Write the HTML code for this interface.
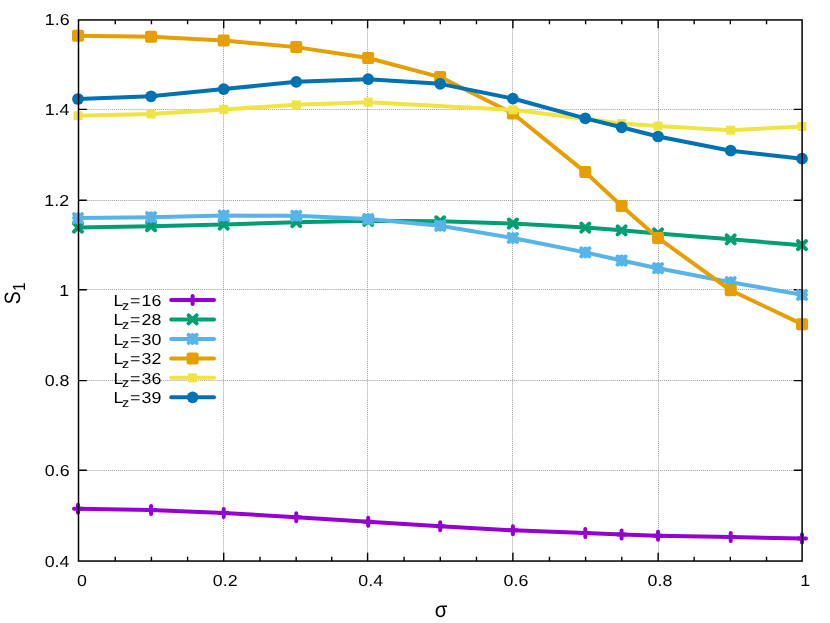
<!DOCTYPE html><html><head><meta charset="utf-8"><title>S1 vs sigma</title>
<style>html,body{margin:0;padding:0;background:#fff}body{width:830px;height:623px;overflow:hidden}svg{display:block;will-change:transform}text{font-family:"Liberation Sans",sans-serif;fill:#000;font-kerning:none;text-rendering:geometricPrecision}</style></head><body>
<svg width="830" height="623" viewBox="0 0 830 623">
<rect width="830" height="623" fill="#fff"/>
<path d="M223.5 20V561M367.5 20V561M512.5 20V561M658.5 20V561M79 470.5H802M79 380.5H802M79 289.5H802M79 200.5H802M79 109.5H802" stroke="#9c9c9e" stroke-width="1" stroke-dasharray="0.95 1" fill="none"/>
<path d="M115.24 561.05v-4.3M115.24 19.95v4.3M151.43 561.05v-4.3M151.43 19.95v4.3M187.61 561.05v-4.3M187.61 19.95v4.3M223.70 561.05v-8.3M223.70 19.95v8.3M259.98 561.05v-4.3M259.98 19.95v4.3M296.16 561.05v-4.3M296.16 19.95v4.3M331.74 561.05v-4.3M331.74 19.95v4.3M367.60 561.05v-8.3M367.60 19.95v8.3M404.11 561.05v-4.3M404.11 19.95v4.3M440.29 561.05v-4.3M440.29 19.95v4.3M476.47 561.05v-4.3M476.47 19.95v4.3M512.90 561.05v-8.3M512.90 19.95v8.3M549.44 561.05v-4.3M549.44 19.95v4.3M585.62 561.05v-4.3M585.62 19.95v4.3M621.81 561.05v-4.3M621.81 19.95v4.3M658.15 561.05v-8.3M658.15 19.95v8.3M694.17 561.05v-4.3M694.17 19.95v4.3M730.35 561.05v-4.3M730.35 19.95v4.3M766.54 561.05v-4.3M766.54 19.95v4.3M78.5 470.20h8.3M802.1 470.20h-8.3M78.5 380.64h8.3M802.1 380.64h-8.3M78.5 289.78h8.3M802.1 289.78h-8.3M78.5 200.20h8.3M802.1 200.20h-8.3M78.5 109.37h8.3M802.1 109.37h-8.3" stroke="#000" stroke-width="1.4" fill="none"/>
<polyline points="78.00,508.66 151.05,510.02 223.70,512.91 296.25,517.24 368.20,521.75 440.20,526.26 512.90,530.32 585.30,533.03 621.60,534.38 658.05,535.73 730.70,537.09 802.00,538.44" fill="none" stroke="#9400D3" stroke-width="4" stroke-linejoin="round" stroke-linecap="round"/>
<path d="M74.00 508.66H82.00M78.00 504.66V512.66" stroke="#9400D3" stroke-width="4" stroke-linecap="round" fill="none"/>
<path d="M147.05 510.02H155.05M151.05 506.02V514.02" stroke="#9400D3" stroke-width="4" stroke-linecap="round" fill="none"/>
<path d="M219.70 512.91H227.70M223.70 508.91V516.91" stroke="#9400D3" stroke-width="4" stroke-linecap="round" fill="none"/>
<path d="M292.25 517.24H300.25M296.25 513.24V521.24" stroke="#9400D3" stroke-width="4" stroke-linecap="round" fill="none"/>
<path d="M364.20 521.75H372.20M368.20 517.75V525.75" stroke="#9400D3" stroke-width="4" stroke-linecap="round" fill="none"/>
<path d="M436.20 526.26H444.20M440.20 522.26V530.26" stroke="#9400D3" stroke-width="4" stroke-linecap="round" fill="none"/>
<path d="M508.90 530.32H516.90M512.90 526.32V534.32" stroke="#9400D3" stroke-width="4" stroke-linecap="round" fill="none"/>
<path d="M581.30 533.03H589.30M585.30 529.03V537.03" stroke="#9400D3" stroke-width="4" stroke-linecap="round" fill="none"/>
<path d="M617.60 534.38H625.60M621.60 530.38V538.38" stroke="#9400D3" stroke-width="4" stroke-linecap="round" fill="none"/>
<path d="M654.05 535.73H662.05M658.05 531.73V539.73" stroke="#9400D3" stroke-width="4" stroke-linecap="round" fill="none"/>
<path d="M726.70 537.09H734.70M730.70 533.09V541.09" stroke="#9400D3" stroke-width="4" stroke-linecap="round" fill="none"/>
<path d="M798.00 538.44H806.00M802.00 534.44V542.44" stroke="#9400D3" stroke-width="4" stroke-linecap="round" fill="none"/>
<polyline points="78.00,227.59 151.05,226.23 223.70,224.61 296.25,222.17 368.20,220.82 440.20,221.27 512.90,223.53 585.30,227.59 621.60,230.29 658.05,233.45 730.70,239.32 802.00,245.18" fill="none" stroke="#009E73" stroke-width="4" stroke-linejoin="round" stroke-linecap="round"/>
<path d="M74.00 223.59L82.00 231.59M74.00 231.59L82.00 223.59" stroke="#009E73" stroke-width="4" stroke-linecap="round" fill="none"/>
<path d="M147.05 222.23L155.05 230.23M147.05 230.23L155.05 222.23" stroke="#009E73" stroke-width="4" stroke-linecap="round" fill="none"/>
<path d="M219.70 220.61L227.70 228.61M219.70 228.61L227.70 220.61" stroke="#009E73" stroke-width="4" stroke-linecap="round" fill="none"/>
<path d="M292.25 218.17L300.25 226.17M292.25 226.17L300.25 218.17" stroke="#009E73" stroke-width="4" stroke-linecap="round" fill="none"/>
<path d="M364.20 216.82L372.20 224.82M364.20 224.82L372.20 216.82" stroke="#009E73" stroke-width="4" stroke-linecap="round" fill="none"/>
<path d="M436.20 217.27L444.20 225.27M436.20 225.27L444.20 217.27" stroke="#009E73" stroke-width="4" stroke-linecap="round" fill="none"/>
<path d="M508.90 219.53L516.90 227.53M508.90 227.53L516.90 219.53" stroke="#009E73" stroke-width="4" stroke-linecap="round" fill="none"/>
<path d="M581.30 223.59L589.30 231.59M581.30 231.59L589.30 223.59" stroke="#009E73" stroke-width="4" stroke-linecap="round" fill="none"/>
<path d="M617.60 226.29L625.60 234.29M617.60 234.29L625.60 226.29" stroke="#009E73" stroke-width="4" stroke-linecap="round" fill="none"/>
<path d="M654.05 229.45L662.05 237.45M654.05 237.45L662.05 229.45" stroke="#009E73" stroke-width="4" stroke-linecap="round" fill="none"/>
<path d="M726.70 235.32L734.70 243.32M726.70 243.32L734.70 235.32" stroke="#009E73" stroke-width="4" stroke-linecap="round" fill="none"/>
<path d="M798.00 241.18L806.00 249.18M798.00 249.18L806.00 241.18" stroke="#009E73" stroke-width="4" stroke-linecap="round" fill="none"/>
<polyline points="78.00,218.11 151.05,217.21 223.70,215.59 296.25,215.86 368.20,219.02 440.20,225.78 512.90,237.96 585.30,252.40 621.60,260.52 658.05,268.19 730.70,282.18 802.00,294.81" fill="none" stroke="#56B4E9" stroke-width="4" stroke-linejoin="round" stroke-linecap="round"/>
<path d="M74.00 218.11H82.00M78.00 214.11V222.11M74.00 214.11L82.00 222.11M74.00 222.11L82.00 214.11" stroke="#56B4E9" stroke-width="4" stroke-linecap="round" fill="none"/>
<path d="M147.05 217.21H155.05M151.05 213.21V221.21M147.05 213.21L155.05 221.21M147.05 221.21L155.05 213.21" stroke="#56B4E9" stroke-width="4" stroke-linecap="round" fill="none"/>
<path d="M219.70 215.59H227.70M223.70 211.59V219.59M219.70 211.59L227.70 219.59M219.70 219.59L227.70 211.59" stroke="#56B4E9" stroke-width="4" stroke-linecap="round" fill="none"/>
<path d="M292.25 215.86H300.25M296.25 211.86V219.86M292.25 211.86L300.25 219.86M292.25 219.86L300.25 211.86" stroke="#56B4E9" stroke-width="4" stroke-linecap="round" fill="none"/>
<path d="M364.20 219.02H372.20M368.20 215.02V223.02M364.20 215.02L372.20 223.02M364.20 223.02L372.20 215.02" stroke="#56B4E9" stroke-width="4" stroke-linecap="round" fill="none"/>
<path d="M436.20 225.78H444.20M440.20 221.78V229.78M436.20 221.78L444.20 229.78M436.20 229.78L444.20 221.78" stroke="#56B4E9" stroke-width="4" stroke-linecap="round" fill="none"/>
<path d="M508.90 237.96H516.90M512.90 233.96V241.96M508.90 233.96L516.90 241.96M508.90 241.96L516.90 233.96" stroke="#56B4E9" stroke-width="4" stroke-linecap="round" fill="none"/>
<path d="M581.30 252.40H589.30M585.30 248.40V256.40M581.30 248.40L589.30 256.40M581.30 256.40L589.30 248.40" stroke="#56B4E9" stroke-width="4" stroke-linecap="round" fill="none"/>
<path d="M617.60 260.52H625.60M621.60 256.52V264.52M617.60 256.52L625.60 264.52M617.60 264.52L625.60 256.52" stroke="#56B4E9" stroke-width="4" stroke-linecap="round" fill="none"/>
<path d="M654.05 268.19H662.05M658.05 264.19V272.19M654.05 264.19L662.05 272.19M654.05 272.19L662.05 264.19" stroke="#56B4E9" stroke-width="4" stroke-linecap="round" fill="none"/>
<path d="M726.70 282.18H734.70M730.70 278.18V286.18M726.70 278.18L734.70 286.18M726.70 286.18L734.70 278.18" stroke="#56B4E9" stroke-width="4" stroke-linecap="round" fill="none"/>
<path d="M798.00 294.81H806.00M802.00 290.81V298.81M798.00 290.81L806.00 298.81M798.00 298.81L806.00 290.81" stroke="#56B4E9" stroke-width="4" stroke-linecap="round" fill="none"/>
<polyline points="78.00,35.71 151.05,36.74 223.70,40.58 296.25,47.12 368.20,57.95 440.20,77.08 512.90,113.44 585.30,172.09 621.60,205.93 658.05,237.96 730.70,290.30 802.00,324.14" fill="none" stroke="#E69F00" stroke-width="4" stroke-linejoin="round" stroke-linecap="round"/>
<rect x="74.00" y="31.71" width="8" height="8" fill="#E69F00" stroke="#E69F00" stroke-width="4" stroke-linejoin="round"/>
<rect x="147.05" y="32.74" width="8" height="8" fill="#E69F00" stroke="#E69F00" stroke-width="4" stroke-linejoin="round"/>
<rect x="219.70" y="36.58" width="8" height="8" fill="#E69F00" stroke="#E69F00" stroke-width="4" stroke-linejoin="round"/>
<rect x="292.25" y="43.12" width="8" height="8" fill="#E69F00" stroke="#E69F00" stroke-width="4" stroke-linejoin="round"/>
<rect x="364.20" y="53.95" width="8" height="8" fill="#E69F00" stroke="#E69F00" stroke-width="4" stroke-linejoin="round"/>
<rect x="436.20" y="73.08" width="8" height="8" fill="#E69F00" stroke="#E69F00" stroke-width="4" stroke-linejoin="round"/>
<rect x="508.90" y="109.44" width="8" height="8" fill="#E69F00" stroke="#E69F00" stroke-width="4" stroke-linejoin="round"/>
<rect x="581.30" y="168.09" width="8" height="8" fill="#E69F00" stroke="#E69F00" stroke-width="4" stroke-linejoin="round"/>
<rect x="617.60" y="201.93" width="8" height="8" fill="#E69F00" stroke="#E69F00" stroke-width="4" stroke-linejoin="round"/>
<rect x="654.05" y="233.96" width="8" height="8" fill="#E69F00" stroke="#E69F00" stroke-width="4" stroke-linejoin="round"/>
<rect x="726.70" y="286.30" width="8" height="8" fill="#E69F00" stroke="#E69F00" stroke-width="4" stroke-linejoin="round"/>
<rect x="798.00" y="320.14" width="8" height="8" fill="#E69F00" stroke="#E69F00" stroke-width="4" stroke-linejoin="round"/>
<polyline points="78.00,115.70 151.05,113.89 223.70,109.38 296.25,104.87 368.20,102.16 512.90,109.83 621.60,123.59 658.05,126.12 730.70,130.14 802.00,126.53" fill="none" stroke="#F0E442" stroke-width="4" stroke-linejoin="round" stroke-linecap="round"/>
<rect x="73.50" y="111.20" width="9" height="9" fill="#F0E442"/>
<rect x="146.55" y="109.39" width="9" height="9" fill="#F0E442"/>
<rect x="219.20" y="104.88" width="9" height="9" fill="#F0E442"/>
<rect x="291.75" y="100.37" width="9" height="9" fill="#F0E442"/>
<rect x="363.70" y="97.66" width="9" height="9" fill="#F0E442"/>
<rect x="508.40" y="105.33" width="9" height="9" fill="#F0E442"/>
<rect x="617.10" y="119.09" width="9" height="9" fill="#F0E442"/>
<rect x="653.55" y="121.62" width="9" height="9" fill="#F0E442"/>
<rect x="726.20" y="125.64" width="9" height="9" fill="#F0E442"/>
<rect x="797.50" y="122.03" width="9" height="9" fill="#F0E442"/>
<polyline points="78.00,99.01 151.05,96.30 223.70,89.08 296.25,81.86 368.20,79.15 440.20,83.85 512.90,98.55 585.30,118.41 621.60,127.29 658.05,136.50 730.70,150.71 802.00,158.69" fill="none" stroke="#0072B2" stroke-width="4" stroke-linejoin="round" stroke-linecap="round"/>
<circle cx="78.00" cy="99.01" r="5.85" fill="#0072B2"/>
<circle cx="151.05" cy="96.30" r="5.85" fill="#0072B2"/>
<circle cx="223.70" cy="89.08" r="5.85" fill="#0072B2"/>
<circle cx="296.25" cy="81.86" r="5.85" fill="#0072B2"/>
<circle cx="368.20" cy="79.15" r="5.85" fill="#0072B2"/>
<circle cx="440.20" cy="83.85" r="5.85" fill="#0072B2"/>
<circle cx="512.90" cy="98.55" r="5.85" fill="#0072B2"/>
<circle cx="585.30" cy="118.41" r="5.85" fill="#0072B2"/>
<circle cx="621.60" cy="127.29" r="5.85" fill="#0072B2"/>
<circle cx="658.05" cy="136.50" r="5.85" fill="#0072B2"/>
<circle cx="730.70" cy="150.71" r="5.85" fill="#0072B2"/>
<circle cx="802.00" cy="158.69" r="5.85" fill="#0072B2"/>
<path d="M171.2 300.00H214" stroke="#9400D3" stroke-width="4" stroke-linecap="round" fill="none"/>
<path d="M188.60 300.00H196.60M192.60 296.00V304.00" stroke="#9400D3" stroke-width="4" stroke-linecap="round" fill="none"/>
<text transform="translate(113.44,305.75) scale(1.12,1)" font-size="15.9">L<tspan font-size="12.72" dx="-1.24" dy="3.8">z</tspan><tspan dx="0.74" dy="-3.8">=</tspan><tspan dx="1.18">16</tspan></text>
<path d="M171.2 319.46H214" stroke="#009E73" stroke-width="4" stroke-linecap="round" fill="none"/>
<path d="M188.60 315.46L196.60 323.46M188.60 323.46L196.60 315.46" stroke="#009E73" stroke-width="4" stroke-linecap="round" fill="none"/>
<text transform="translate(113.44,325.21) scale(1.12,1)" font-size="15.9">L<tspan font-size="12.72" dx="-1.24" dy="3.8">z</tspan><tspan dx="0.74" dy="-3.8">=</tspan><tspan dx="1.18">28</tspan></text>
<path d="M171.2 338.92H214" stroke="#56B4E9" stroke-width="4" stroke-linecap="round" fill="none"/>
<path d="M188.60 338.92H196.60M192.60 334.92V342.92M188.60 334.92L196.60 342.92M188.60 342.92L196.60 334.92" stroke="#56B4E9" stroke-width="4" stroke-linecap="round" fill="none"/>
<text transform="translate(113.44,344.67) scale(1.12,1)" font-size="15.9">L<tspan font-size="12.72" dx="-1.24" dy="3.8">z</tspan><tspan dx="0.74" dy="-3.8">=</tspan><tspan dx="1.18">30</tspan></text>
<path d="M171.2 358.38H214" stroke="#E69F00" stroke-width="4" stroke-linecap="round" fill="none"/>
<rect x="188.60" y="354.38" width="8" height="8" fill="#E69F00" stroke="#E69F00" stroke-width="4" stroke-linejoin="round"/>
<text transform="translate(113.44,364.13) scale(1.12,1)" font-size="15.9">L<tspan font-size="12.72" dx="-1.24" dy="3.8">z</tspan><tspan dx="0.74" dy="-3.8">=</tspan><tspan dx="1.18">32</tspan></text>
<path d="M171.2 377.84H214" stroke="#F0E442" stroke-width="4" stroke-linecap="round" fill="none"/>
<rect x="188.10" y="373.34" width="9" height="9" fill="#F0E442"/>
<text transform="translate(113.44,383.59) scale(1.12,1)" font-size="15.9">L<tspan font-size="12.72" dx="-1.24" dy="3.8">z</tspan><tspan dx="0.74" dy="-3.8">=</tspan><tspan dx="1.18">36</tspan></text>
<path d="M171.2 397.30H214" stroke="#0072B2" stroke-width="4" stroke-linecap="round" fill="none"/>
<circle cx="192.60" cy="397.30" r="5.85" fill="#0072B2"/>
<text transform="translate(113.44,403.05) scale(1.12,1)" font-size="15.9">L<tspan font-size="12.72" dx="-1.24" dy="3.8">z</tspan><tspan dx="0.74" dy="-3.8">=</tspan><tspan dx="1.18">39</tspan></text>
<rect x="78.5" y="19.95" width="723.60" height="541.10" fill="none" stroke="#000" stroke-width="1.5"/>
<text transform="translate(44.65,567.00) scale(1.12,1)" font-size="15.9">0.4</text>
<text transform="translate(44.81,476.00) scale(1.12,1)" font-size="15.9">0.6</text>
<text transform="translate(44.72,386.00) scale(1.12,1)" font-size="15.9">0.8</text>
<text transform="translate(59.29,296.00) scale(1.12,1)" font-size="15.9">1</text>
<text transform="translate(44.34,206.00) scale(1.12,1)" font-size="15.9">1.2</text>
<text transform="translate(44.65,115.00) scale(1.12,1)" font-size="15.9">1.4</text>
<text transform="translate(44.81,25.00) scale(1.12,1)" font-size="15.9">1.6</text>
<text transform="translate(76.95,586.00) scale(1.12,1)" font-size="15.9">0</text>
<text transform="translate(212.82,586.00) scale(1.12,1)" font-size="15.9">0.2</text>
<text transform="translate(358.34,586.00) scale(1.12,1)" font-size="15.9">0.4</text>
<text transform="translate(503.57,586.00) scale(1.12,1)" font-size="15.9">0.6</text>
<text transform="translate(647.56,586.00) scale(1.12,1)" font-size="15.9">0.8</text>
<text transform="translate(800.20,586.00) scale(1.12,1)" font-size="15.9">1</text>
<text transform="translate(19.6,304.2) rotate(-90) scale(0.87,1)" font-size="22.2">S<tspan font-size="17.6" dx="0.5" dy="5.4">1</tspan></text>
<text transform="translate(441.05,616.8) scale(0.94,1)" text-anchor="middle" font-size="21.6">σ</text>
</svg></body></html>
